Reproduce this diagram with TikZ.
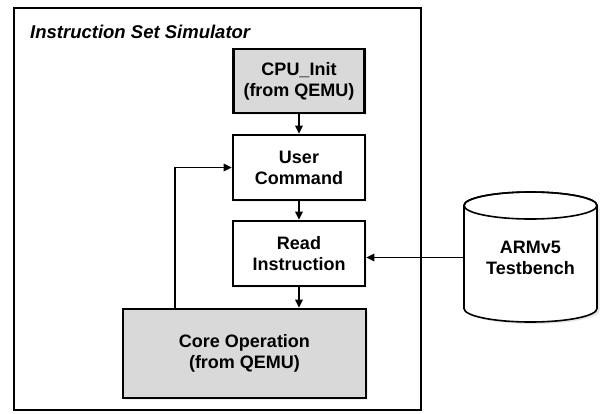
\documentclass[tikz,border=0pt]{standalone}
\usepackage{fontspec}
\setmainfont{Liberation Sans}
\usetikzlibrary{arrows.meta,shadows}
\definecolor{boxgray}{HTML}{D9D9D9}
\tikzset{
  blk/.style={draw=black, line width=2.6pt, fill=white, align=center,
    font=\bfseries\fontsize{18}{21}\selectfont, inner sep=0pt,
    drop shadow={opacity=0.12, shadow xshift=2pt, shadow yshift=-2pt}},
  grayblk/.style={blk, fill=boxgray},
  arr/.style={line width=1.6pt, -{Triangle[length=8pt,width=7.5pt]}},
}
\begin{document}
\begin{tikzpicture}[x=1pt,y=-1pt]
\useasboundingbox (0,0) rectangle (603,413);
% outer frame
\draw[line width=1.8pt] (14,8) rectangle (421,410);
\node[anchor=west, font=\bfseries\itshape\fontsize{18.5}{21}\selectfont, inner sep=0pt] (title) at (30,32) {Instruction Set Simulator};
% blocks
\node[grayblk, minimum width=131pt, minimum height=64pt] (cpu) at (299,81) {CPU\_Init\\(from QEMU)};
\node[blk, minimum width=132pt, minimum height=65pt] (user) at (299,167.5) {User\\Command};
\node[blk, minimum width=132pt, minimum height=65pt] (read) at (299,253.5) {Read\\Instruction};
\node[grayblk, minimum width=243pt, minimum height=89pt] (core) at (244.5,353.5) {Core Operation\\(from QEMU)};
% cylinder
\fill[black, opacity=0.10] (466.5,207.5) -- (466.5,310.5) arc[start angle=180, end angle=360, x radius=66.5pt, y radius=13.5pt] -- (599.5,207.5) arc[start angle=0, end angle=180, x radius=66.5pt, y radius=13.5pt] -- cycle;
\draw[line width=1.6pt, fill=white] (464,205.5) -- (464,308.5) arc[start angle=180, end angle=360, x radius=66.5pt, y radius=13.5pt] -- (597,205.5) arc[start angle=0, end angle=180, x radius=66.5pt, y radius=13.5pt] -- cycle;
\draw[line width=1.6pt] (530.5,205.5) ellipse [x radius=66.5pt, y radius=13.5pt];
\node[minimum width=133pt, minimum height=103pt, inner sep=0pt, align=center,
  font=\bfseries\fontsize{18}{21}\selectfont] (tb) at (530.5,257.5) {ARMv5\\Testbench};
% connectors
\draw[arr] (cpu.south) -- (user.north);
\draw[arr] (user.south) -- (read.north);
\draw[arr] (read.south) -- (core.north -| read.south);
\draw[arr] ([xshift=53pt]core.north west) |- (user.west);
\draw[arr] (tb.west) -- (tb.west -| read.east);
\end{tikzpicture}
\end{document}
